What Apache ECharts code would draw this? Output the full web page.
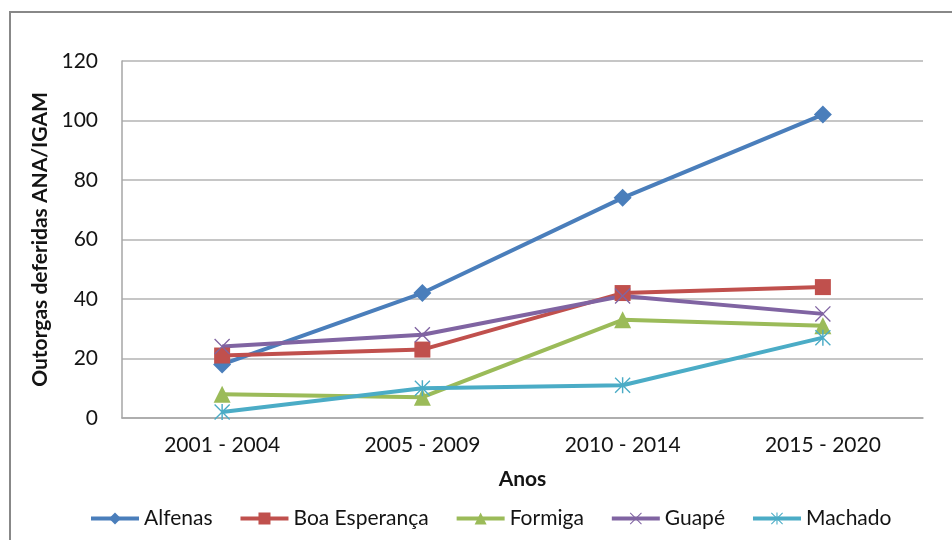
<!DOCTYPE html>
<html>
<head>
<meta charset="utf-8">
<script src="https://cdn.jsdelivr.net/npm/echarts@6/dist/echarts.min.js"></script>
<style>
  html, body { margin: 0; padding: 0; background: #fff; }
  #chart { width: 952px; height: 540px; }
</style>
</head>
<body>
<div id="chart"></div>
<script>
// categorias (períodos)
const periodos = ['2001 - 2004', '2005 - 2009', '2010 - 2014', '2015 - 2020'];

// outorgas por município
const alfenas = [18, 42, 74, 102];
const boaEsperanca = [21, 23, 42, 44];
const formiga = [8, 7, 33, 31];
const guape = [24, 28, 41, 35];
const machado = [2, 10, 11, 27];

const FONT = 'Lato';
const TXT = '#141414';
const FS = 21;

// marcadores estilo Excel
const symX = 'path://M0,1.2 L1.2,0 L20,18.8 L18.8,20 Z M18.8,0 L20,1.2 L1.2,20 L0,18.8 Z';
const symStar = 'path://M0,1.2 L1.2,0 L20,18.8 L18.8,20 Z M18.8,0 L20,1.2 L1.2,20 L0,18.8 Z M9.1,0 L10.9,0 L10.9,20 L9.1,20 Z';

function linha(nome, dados, cor, simbolo, tam) {
  return {
    name: nome,
    type: 'line',
    data: dados,
    symbol: simbolo,
    symbolSize: tam,
    showSymbol: true,
    lineStyle: { color: cor, width: 4 },
    itemStyle: { color: cor },
    emphasis: { disabled: true }
  };
}

const chart = echarts.init(document.getElementById('chart'));
chart.setOption({
  animation: false,
  backgroundColor: '#fff',
  textStyle: { fontFamily: FONT },
  color: ['#4a7ebb', '#c0504d', '#9bbb59', '#8064a2', '#4bacc6'],
  graphic: [{
    type: 'rect',
    shape: { x: 10, y: 12, width: 980, height: 580 },
    style: { fill: 'none', stroke: '#888', lineWidth: 2 },
    silent: true
  }],
  grid: { left: 122, right: 29, top: 61, bottom: 122 },
  legend: {
    left: 84,
    top: 503,
    itemWidth: 48,
    itemHeight: 15,
    itemGap: 26,
    lineStyle: { width: 4 },
    textStyle: { fontFamily: FONT, fontSize: FS, color: TXT },
    data: ['Alfenas', 'Boa Esperança', 'Formiga', 'Guapé', 'Machado']
  },
  xAxis: {
    type: 'category',
    data: periodos,
    boundaryGap: true,
    name: 'Anos',
    nameLocation: 'middle',
    nameGap: 51,
    nameTextStyle: { fontFamily: FONT, fontSize: FS, fontWeight: 'bold', color: TXT },
    axisLine: { lineStyle: { color: '#a6a6a6', width: 1.5 } },
    axisTick: { show: false },
    axisLabel: { fontFamily: FONT, fontSize: FS, color: TXT, margin: 17 }
  },
  yAxis: {
    type: 'value',
    min: 0,
    max: 120,
    interval: 20,
    name: 'Outorgas deferidas ANA/IGAM',
    nameLocation: 'middle',
    nameGap: 70,
    nameTextStyle: { fontFamily: FONT, fontSize: FS, fontWeight: 'bold', color: TXT },
    axisLine: { show: true, lineStyle: { color: '#a6a6a6', width: 1.5 } },
    axisTick: { show: false },
    splitLine: { lineStyle: { color: '#b3b3b3', width: 1.5 } },
    axisLabel: { fontFamily: FONT, fontSize: FS, color: TXT, margin: 24 }
  },
  series: [
    linha('Alfenas', alfenas, '#4a7ebb', 'diamond', 18),
    linha('Boa Esperança', boaEsperanca, '#c0504d', 'rect', 16),
    linha('Formiga', formiga, '#9bbb59', 'triangle', 17),
    linha('Guapé', guape, '#8064a2', symX, 16),
    linha('Machado', machado, '#4bacc6', symStar, 16)
  ]
});
</script>
</body>
</html>
